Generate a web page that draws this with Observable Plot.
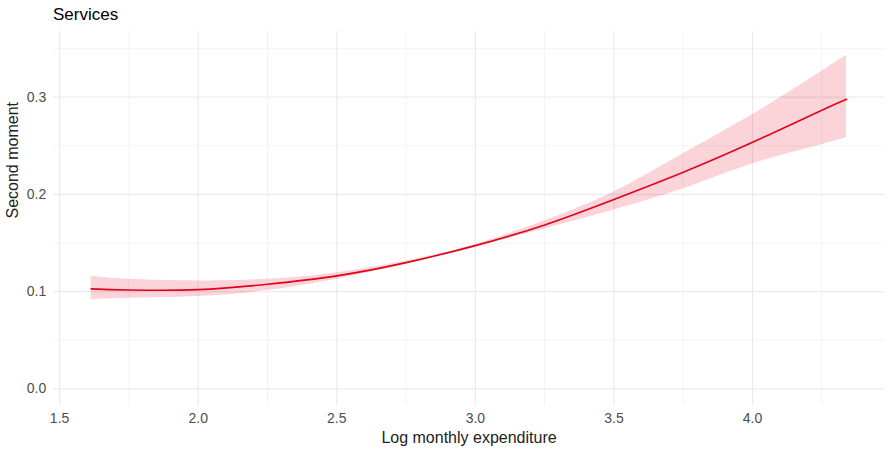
<!DOCTYPE html>
<html><head><meta charset="utf-8">
<script src="https://cdn.jsdelivr.net/npm/d3@7"></script>
<script src="https://cdn.jsdelivr.net/npm/@observablehq/plot@0.6"></script>
<style>
body{margin:0;background:#fff;font-family:"Liberation Sans",Arial,sans-serif;}
#wrap{width:892px;height:452px;position:relative;overflow:hidden;}
#title{height:26px;box-sizing:border-box;padding-left:53px;padding-top:6px;font-size:17px;line-height:17px;color:#000;}
</style></head><body>
<div id="wrap"><div id="title">Services</div><div id="chart"></div></div>
<script>
// Data
const xs    = [1.614, 1.75, 2.0, 2.25, 2.5, 2.75, 3.0, 3.25, 3.5, 3.75, 4.0, 4.25, 4.339];
const fit   = [0.1028, 0.1017, 0.1020, 0.1076, 0.1162, 0.1298, 0.1473, 0.1686, 0.1948, 0.2228, 0.2536, 0.2865, 0.2978];
const upper = [0.1158, 0.1127, 0.1110, 0.1127, 0.1195, 0.1315, 0.1485, 0.1730, 0.2025, 0.2417, 0.2821, 0.3266, 0.3431];
const lower = [0.0918, 0.0932, 0.0949, 0.1010, 0.1128, 0.1282, 0.1461, 0.1645, 0.1840, 0.2057, 0.2314, 0.2512, 0.2582];
const xTicks = [1.5, 2.0, 2.5, 3.0, 3.5, 4.0];
const xMinor = [1.75, 2.25, 2.75, 3.25, 3.75, 4.25];
const yTicks = [0.0, 0.1, 0.2, 0.3];
const yMinor = [0.05, 0.15, 0.25, 0.35];
const title = "Services";
const xLabel = "Log monthly expenditure";
const yLabel = "Second moment";

document.getElementById("title").textContent = title;
const data = xs.map((x, i) => ({x, fit: fit[i], hi: upper[i], lo: lower[i]}));
const red = "#e3001b";
const grid = "#ebebeb";
const fmt = d3.format(".1f");

const chart = Plot.plot({
  width: 892,
  height: 426,
  marginTop: 5,
  marginBottom: 47,
  marginLeft: 53,
  marginRight: 8,
  style: {fontFamily: '"Liberation Sans", Arial, sans-serif', background: "#fff"},
  x: {domain: [1.478, 4.476]},
  y: {domain: [-0.0172, 0.3676]},
  marks: [
    Plot.gridX(xMinor, {stroke: grid, strokeWidth: 0.6, strokeOpacity: 1}),
    Plot.gridY(yMinor, {stroke: grid, strokeWidth: 0.6, strokeOpacity: 1}),
    Plot.gridX(xTicks, {stroke: grid, strokeWidth: 1.2, strokeOpacity: 1}),
    Plot.gridY(yTicks, {stroke: grid, strokeWidth: 1.2, strokeOpacity: 1}),
    Plot.areaY(data, {x: "x", y1: "lo", y2: "hi", fill: red, fillOpacity: 0.17, curve: "natural"}),
    Plot.line(data, {x: "x", y: "fit", stroke: red, strokeWidth: 1.6, curve: "natural"}),
    Plot.axisX(xTicks, {tickSize: 0, tickPadding: 8, tickFormat: fmt, fontSize: 14, color: "#4d4d4d", label: null}),
    Plot.axisY(yTicks, {tickSize: 0, tickPadding: 7.3, tickFormat: fmt, fontSize: 14, color: "#4d4d4d", label: null}),
    Plot.text([xLabel], {text: d => d, frameAnchor: "bottom", dy: 37.7, lineAnchor: "bottom", fontSize: 16, fill: "#222"}),
    Plot.text([yLabel], {text: d => d, frameAnchor: "left", dx: -35.5, rotate: -90, lineAnchor: "bottom", fontSize: 16, fill: "#222"})
  ]
});
document.getElementById("chart").appendChild(chart);
</script>
</body></html>
